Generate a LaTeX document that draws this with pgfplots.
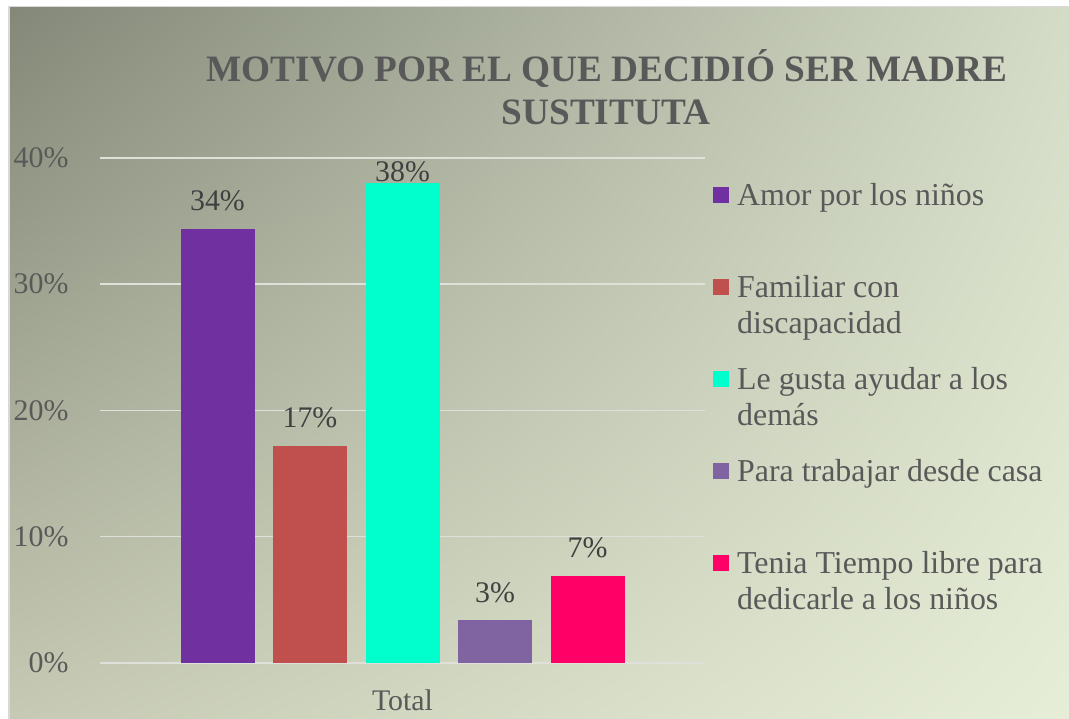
\documentclass[border=0pt]{standalone}
\usepackage{pgfplots}
\pgfplotsset{compat=1.18}
\usetikzlibrary{shadings}
\usepackage{fontspec}
\setmainfont{Liberation Serif}
\definecolor{cPurple}{HTML}{7030A0}
\definecolor{cRed}{HTML}{C0504D}
\definecolor{cCyan}{HTML}{00FFCC}
\definecolor{cLav}{HTML}{8064A2}
\definecolor{cPink}{HTML}{FF0066}
\definecolor{cText}{HTML}{595959}
\definecolor{cLabel}{HTML}{404040}
\definecolor{cGrid}{HTML}{DFE0DA}
\definecolor{cBorder}{HTML}{D9D9D9}
\definecolor{bgUL}{HTML}{838878}
\definecolor{bgUR}{HTML}{D4DBC6}
\definecolor{bgLL}{HTML}{C6CAB4}
\definecolor{bgLR}{HTML}{E7EED7}
\newcommand{\lent}[1]{\begin{tabular}[t]{@{}l@{}}#1\end{tabular}}
\begin{document}
\begin{tikzpicture}[x=1bp,y=1bp]
\useasboundingbox (0,0) rectangle (1069,719);
\fill[white] (0,0) rectangle (1069,719);
\fill[cBorder] (8,0) rectangle (1069,713);
\shade[upper left=bgUL, upper right=bgUR, lower left=bgLL, lower right=bgLR] (10,0) rectangle (1069,711);
\node[font=\fontsize{37.4}{42}\selectfont\bfseries, text=cText, anchor=base, inner sep=0] at (607,637) {MOTIVO POR EL QUE DECIDIÓ SER MADRE};
\node[font=\fontsize{37.4}{42}\selectfont\bfseries, text=cText, anchor=base, inner sep=0] at (606,594) {SUSTITUTA};
\begin{axis}[
  at={(100bp,56bp)}, anchor=south west,
  scale only axis, width=605bp, height=505bp,
  ymin=0, ymax=40, xmin=-1, xmax=1,
  clip=false,
  axis line style={draw=none},
  major tick length=0pt,
  ytick={0,10,20,30,40},
  yticklabel={\pgfmathprintnumber{\tick}\%},
  yticklabel style={font=\fontsize{30}{36}\selectfont, text=cText, anchor=east, xshift=-28bp},
  xtick={0}, xticklabels={Total},
  xticklabel style={font=\fontsize{30}{36}\selectfont, text=cText, anchor=north, yshift=-23bp},
  ymajorgrids, grid style={color=cGrid, line width=1.5bp},
  /pgf/number format/assume math mode=true,
  ybar=18.5bp, bar width=74bp,
  nodes near coords={\pgfmathprintnumber[fixed,precision=0]{\pgfplotspointmeta}\%},
  every node near coord/.append style={font=\fontsize{30}{36}\selectfont, text=cLabel, anchor=base, yshift=18bp},
  legend style={draw=none, fill=none, at={(axis description cs:1.0132,0.9564)}, anchor=north west,
    font=\fontsize{32}{36.5}\selectfont, text=cText, inner sep=0pt, row sep=0pt, column sep=8bp,
    nodes={inner sep=0pt, text height=25bp, text depth=67bp}},
  legend cell align=left,
  legend image code/.code={\fill[#1] (0bp,23bp) rectangle (16bp,39bp);},
]
\addplot[fill=cPurple, draw=none] coordinates {(0,34.4)};
\addlegendentry{\lent{Amor por los niños}}
\addplot[fill=cRed, draw=none] coordinates {(0,17.2)};
\addlegendentry{\lent{Familiar con\\discapacidad}}
\addplot[fill=cCyan, draw=none, every node near coord/.append style={yshift=-16bp}] coordinates {(0,38.0)};
\addlegendentry{\lent{Le gusta ayudar a los\\demás}}
\addplot[fill=cLav, draw=none] coordinates {(0,3.4)};
\addlegendentry{\lent{Para trabajar desde casa}}
\addplot[fill=cPink, draw=none] coordinates {(0,6.9)};
\addlegendentry{\lent{Tenia Tiempo libre para\\dedicarle a los niños}}
\end{axis}
\end{tikzpicture}
\end{document}
